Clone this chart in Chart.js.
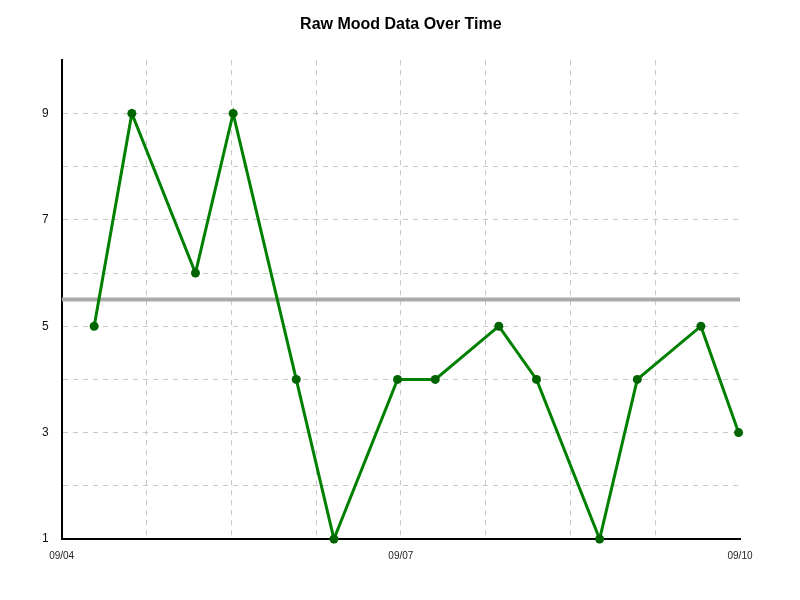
<!DOCTYPE html>
<html>
<head>
<meta charset="utf-8">
<script src="https://cdn.jsdelivr.net/npm/chart.js@4.4.0/dist/chart.umd.min.js"></script>
<style>
  html, body { margin: 0; padding: 0; background: #fff; }
  #caja { width: 800px; height: 600px; }
</style>
</head>
<body>
<div id="caja"><canvas id="myChart"></canvas></div>
<script>
// hours since 09/04 00:00
const horas = [6.9, 14.9, 28.4, 36.4, 49.8, 57.8, 71.3, 79.3, 92.8, 100.8, 114.2, 122.2, 135.7, 143.7];
const animo = [5, 9, 6, 9, 4, 1, 4, 4, 5, 4, 1, 4, 5, 3];
const fechas = ["09/04", "09/07", "09/10"];
const promedio = 5.5;
const minHora = 0;
const maxHora = 144;

const puntos = horas.map((h, i) => ({ x: h, y: animo[i] }));
const lineaMedia = [{ x: minHora, y: promedio }, { x: maxHora, y: promedio }];

const fuente = "'Liberation Sans', Arial, sans-serif";

function createChart() {
  const ctx = document.getElementById("myChart").getContext("2d");

  new Chart(ctx, {
    type: "line",
    data: {
      datasets: [
        {
          label: "Mood",
          data: puntos,
          borderColor: "#008000",
          borderWidth: 3,
          pointRadius: 4.5,
          pointBackgroundColor: "#006400",
          pointBorderColor: "#006400",
          pointBorderWidth: 0,
          tension: 0,
          clip: false,
          order: 0,
        },
        {
          label: "Average",
          data: lineaMedia,
          borderColor: "#aaaaaa",
          borderWidth: 4,
          pointRadius: 0,
          order: 1,
        },
      ],
    },
    options: {
      responsive: false,
      animation: false,
      layout: {
        padding: { left: 29, right: 60, top: 0, bottom: 27 },
      },
      plugins: {
        legend: { display: false },
        tooltip: { enabled: false },
        title: {
          display: true,
          fullSize: false,
          text: "Raw Mood Data Over Time",
          color: "#000",
          font: { family: fuente, size: 16, weight: "bold" },
          padding: { top: 15, bottom: 26 },
        },
      },
      scales: {
        x: {
          type: "linear",
          min: minHora,
          max: maxHora,
          border: { color: "#000", width: 2, dash: [5, 5] },
          grid: {
            drawTicks: false,
            color: (c) => (c.tick && (c.tick.value === minHora || c.tick.value === maxHora) ? "rgba(0,0,0,0)" : "#c8c8c8"),
          },
          ticks: {
            stepSize: 18,
            autoSkip: false,
            maxRotation: 0,
            padding: 11,
            color: "#222",
            font: { family: fuente, size: 10 },
            callback: (v) => (v % 72 === 0 ? fechas[v / 72] : ""),
          },
        },
        y: {
          min: 1,
          max: 10,
          border: { color: "#000", width: 2, dash: [5, 5] },
          grid: {
            drawTicks: false,
            color: (c) => (c.tick && (c.tick.value === 1 || c.tick.value === 10) ? "rgba(0,0,0,0)" : "#c8c8c8"),
          },
          ticks: {
            stepSize: 1,
            autoSkip: false,
            padding: 13,
            color: "#111",
            font: { family: fuente, size: 12 },
            callback: (v) => (v % 2 === 1 && v < 10 ? String(v) : ""),
          },
        },
      },
    },
  });
}

const canvas = document.getElementById("myChart");
canvas.width = 800;
canvas.height = 600;
createChart();
</script>
</body>
</html>
